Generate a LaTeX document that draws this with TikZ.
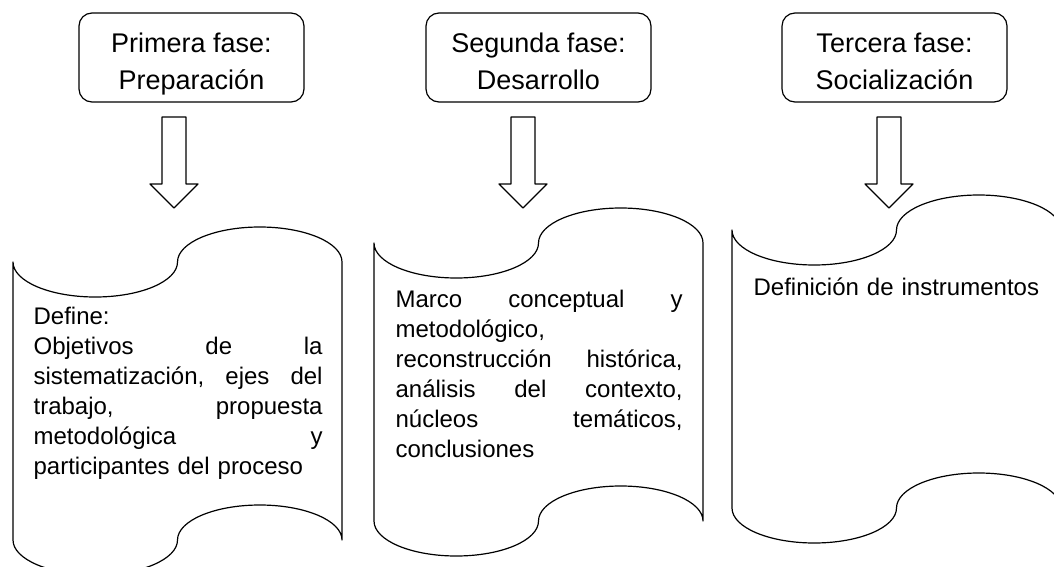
\documentclass[tikz,border=0pt]{standalone}
\usepackage{fontspec}
\setmainfont{Liberation Sans}
\begin{document}
\begin{tikzpicture}[x=1pt,y=-1pt,line width=1.2pt,line join=round,
  phasebox/.style={draw,rounded corners=13pt,minimum width=225pt,minimum height=89pt,inner sep=0pt},
  phasetext/.style={font=\fontsize{27}{37}\selectfont,align=center,inner sep=0pt,anchor=base},
  tapetext/.style={font=\fontsize{24}{30}\selectfont,text width=#1,align=left,inner sep=0pt,anchor=base west},
  pics/tapeshape/.style={code={
    \draw (0,0) .. controls (0,19.33) and (36.82,35) .. (82.25,35)
      .. controls (127.68,35) and (164.5,19.33) .. (164.5,0)
      .. controls (164.5,-19.33) and (201.32,-35) .. (246.75,-35)
      .. controls (292.18,-35) and (329,-19.33) .. (329,0)
      -- (329,278)
      .. controls (329,258.67) and (292.18,243) .. (246.75,243)
      .. controls (201.32,243) and (164.5,258.67) .. (164.5,278)
      .. controls (164.5,297.33) and (127.68,313) .. (82.25,313)
      .. controls (36.82,313) and (0,297.33) .. (0,278) -- cycle;
  }},
  pics/blockarrow/.style={code={
    \draw (-12,0) -- (12,0) -- (12,67) -- (24,67) -- (0,91) -- (-24,67) -- (-12,67) -- cycle;
  }}]
\clip (0,0) rectangle (1054,567);

% phase boxes
\node[phasebox] (b1) at (191.5,57.5) {};
\node[phasebox] (b2) at (538.5,57.5) {};
\node[phasebox] (b3) at (894.5,57.5) {};
\node[phasetext] (t1) at (191.5,90) {Primera fase:\\Preparación};
\node[phasetext] (t2) at (538.5,90) {Segunda fase:\\Desarrollo};
\node[phasetext] (t3) at (894.5,90) {Tercera fase:\\Socialización};

% arrow start points
\coordinate (a1) at (174,117);
\coordinate (a2) at (523,117);
\coordinate (a3) at (889,117);
\pic at (a1) {blockarrow};
\pic at (a2) {blockarrow};
\pic at (a3) {blockarrow};

% scroll shapes
\coordinate (s1) at (13,262);
\coordinate (s2) at (374,243);
\coordinate (s3) at (732,230);
\pic at (s1) {tapeshape};
\pic at (s2) {tapeshape};
\pic at (s3) {tapeshape};

% scroll texts
\node[tapetext=289pt] (x1) at (33,324) {Define:\\
Objetivos\hfill de\hfill la\\
sistematización,\hfill ejes\hfill del\\
trabajo,\hfill propuesta\\
metodológica\hfill y\\
participantes del proceso};
\node[tapetext=287pt] (x2) at (395,307) {Marco\hfill conceptual\hfill y\\
metodológico,\\
reconstrucción\hfill histórica,\\
análisis\hfill del\hfill contexto,\\
núcleos\hfill temáticos,\\
conclusiones};
\node[tapetext=300pt] (x3) at (753,295) {Definición de instrumentos};
\end{tikzpicture}
\end{document}
